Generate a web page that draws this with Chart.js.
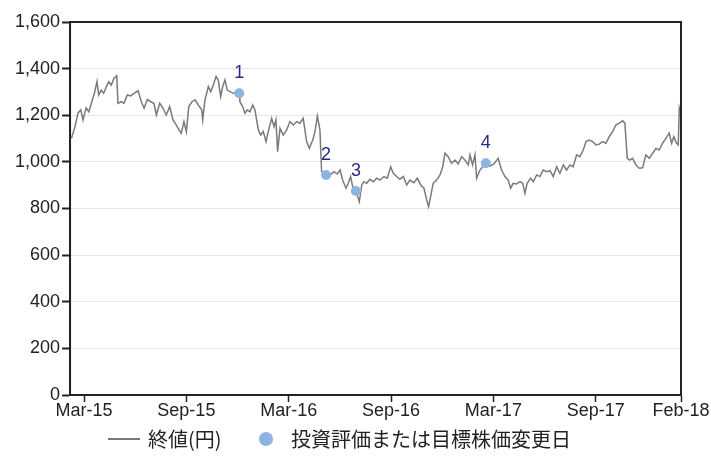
<!DOCTYPE html>
<html>
<head>
<meta charset="utf-8">
<script src="https://cdn.jsdelivr.net/npm/chart.js@4.4.1/dist/chart.umd.min.js"></script>
<style>
  html, body { margin: 0; padding: 0; background: #fff; }
  #wrap { position: relative; width: 711px; height: 466px; }
  #legend { position: absolute; left: 0; top: 426px; width: 711px; height: 26px;
            font: 20px "Noto Sans CJK JP", "Liberation Sans", sans-serif; color: #222; }
  #legend span { position: absolute; top: 0; line-height: 26px; white-space: nowrap; }
  #legend .sw-line { top: 12px; width: 32px; height: 2px; background: #7a7a7a; }
  #legend .sw-dot { top: 6px; width: 14px; height: 14px; border-radius: 50%; background: #8db3e2; }
</style>
</head>
<body>
<div id="wrap">
  <canvas id="priceChart" width="711" height="466"></canvas>
  <div id="legend"></div>
</div>
<script>
// x = months since Mar-2015, y = closing price (yen)
var months = [
  -0.74, -0.55, -0.35, -0.19, -0.06, 0.12, 0.28, 0.43, 0.63, 0.76,
  0.86, 1.01, 1.15, 1.31, 1.45, 1.60, 1.76, 1.92, 1.99, 2.19,
  2.34, 2.54, 2.74, 2.93, 3.17, 3.36, 3.52, 3.71, 3.91, 4.10,
  4.24, 4.44, 4.63, 4.82, 5.02, 5.22, 5.41, 5.57, 5.70, 5.86,
  6.00, 6.14, 6.33, 6.51, 6.70, 6.90, 6.96, 7.09, 7.29, 7.43,
  7.58, 7.74, 7.87, 8.01, 8.13, 8.26, 8.40, 8.56, 8.75, 9.10,
  9.14, 9.30, 9.44, 9.57, 9.73, 9.89, 10.02, 10.22, 10.36, 10.51,
  10.67, 10.80, 11.00, 11.14, 11.25, 11.35, 11.49, 11.68, 11.88, 12.07,
  12.27, 12.47, 12.66, 12.85, 13.05, 13.21, 13.41, 13.54, 13.68, 13.83,
  13.93, 14.19, 14.42, 14.65, 14.85, 15.01, 15.16, 15.36, 15.49, 15.63,
  15.75, 15.94, 16.14, 16.28, 16.41, 16.57, 16.76, 16.96, 17.16, 17.35,
  17.58, 17.78, 17.98, 18.13, 18.33, 18.52, 18.72, 18.92, 19.11, 19.34,
  19.54, 19.74, 19.93, 20.09, 20.20, 20.32, 20.47, 20.67, 20.87, 21.03,
  21.16, 21.35, 21.55, 21.75, 21.94, 22.14, 22.33, 22.53, 22.63, 22.78,
  22.92, 23.02, 23.21, 23.56, 23.80, 24.03, 24.28, 24.48, 24.68, 24.87,
  25.01, 25.16, 25.36, 25.56, 25.72, 25.85, 25.98, 26.18, 26.34, 26.54,
  26.73, 26.92, 27.12, 27.32, 27.51, 27.71, 27.90, 28.10, 28.29, 28.49,
  28.68, 28.88, 29.07, 29.27, 29.43, 29.62, 29.82, 30.01, 30.21, 30.40,
  30.60, 30.79, 30.99, 31.18, 31.38, 31.58, 31.71, 31.85, 32.00, 32.16,
  32.36, 32.55, 32.75, 32.94, 33.14, 33.34, 33.53, 33.72, 33.92, 34.11,
  34.31, 34.45, 34.58, 34.74, 34.84, 34.90, 34.95
];
var closes = [
  1101, 1145, 1210, 1223, 1180, 1231, 1215, 1251, 1301, 1344,
  1287, 1308, 1294, 1323, 1344, 1330, 1359, 1369, 1251, 1258,
  1251, 1287, 1283, 1294, 1305, 1258, 1230, 1268, 1258, 1251,
  1201, 1251, 1230, 1201, 1237, 1180, 1158, 1137, 1123, 1173,
  1130, 1237, 1258, 1266, 1244, 1223, 1180, 1266, 1323, 1301,
  1330, 1366, 1351, 1280, 1323, 1351, 1308, 1301, 1294, 1294,
  1258, 1237, 1208, 1223, 1215, 1244, 1223, 1137, 1115, 1130,
  1087, 1130, 1187, 1151, 1180, 1044, 1144, 1115, 1137, 1173,
  1158, 1173, 1166, 1187, 1087, 1058, 1094, 1130, 1197, 1137,
  958, 944, 944, 958, 948, 965, 922, 887, 908, 937,
  894, 875, 829, 901, 915, 908, 925, 915, 930, 922,
  937, 930, 979, 951, 937, 925, 937, 901, 922, 911,
  930, 901, 887, 837, 808, 851, 908, 922, 944, 979,
  1037, 1022, 994, 1008, 991, 1022, 1008, 987, 1030, 987,
  1030, 930, 965, 994, 982, 991, 1015, 965, 937, 922,
  887, 908, 905, 915, 908, 865, 908, 930, 915, 944,
  937, 965, 958, 962, 937, 979, 951, 987, 965, 987,
  979, 1030, 1022, 1051, 1087, 1094, 1087, 1073, 1076, 1087,
  1080, 1108, 1130, 1158, 1166, 1176, 1166, 1015, 1008, 1015,
  987, 973, 975, 1030, 1015, 1037, 1058, 1051, 1080, 1101,
  1123, 1080, 1108, 1080, 1073, 1230, 1215
];

// rating / target price change days
var eventMonths = [9.10, 14.19, 15.94, 23.56];
var eventPrices = [1294, 944, 875, 994];
var eventLabels = ['1', '2', '3', '4'];

var tickMonths = [0, 6, 12, 18, 24, 30, 35];
var tickLabels = ['Mar-15', 'Sep-15', 'Mar-16', 'Sep-16', 'Mar-17', 'Sep-17', 'Feb-18'];

var seriesNames = ['終値(円)', '投資評価または目標株価変更日'];

var FONT = '"Liberation Sans", "Noto Sans CJK JP", sans-serif';
var INK = '#222';

// legend below the plot
var legend = document.getElementById('legend');
legend.innerHTML =
    '<span class="sw-line" style="left:108px"></span>' +
    '<span style="left:148px">' + seriesNames[0] + '</span>' +
    '<span class="sw-dot" style="left:259px"></span>' +
    '<span style="left:291px">' + seriesNames[1] + '</span>';

var boxAndLabels = {
    id: 'boxAndLabels',
    afterDatasetsDraw: function(chart) {
        var ctx = chart.ctx, a = chart.chartArea;
        var xs = chart.scales.x, ys = chart.scales.y;
        ctx.save();
        ctx.strokeStyle = INK;
        ctx.lineWidth = 2;
        ctx.strokeRect(a.left, a.top, a.right - a.left, a.bottom - a.top);
        ctx.fillStyle = '#2a2a86';
        ctx.font = '18px ' + FONT;
        ctx.textAlign = 'center';
        ctx.textBaseline = 'middle';
        for (var i = 0; i < eventMonths.length; i++) {
            ctx.fillText(eventLabels[i], xs.getPixelForValue(eventMonths[i]), ys.getPixelForValue(eventPrices[i]) - 20);
        }
        ctx.restore();
    }
};

var ctx = document.getElementById('priceChart').getContext('2d');
new Chart(ctx, {
    type: 'line',
    data: {
        datasets: [{
            label: seriesNames[0],
            data: months.map(function(m, i) { return { x: m, y: closes[i] }; }),
            borderColor: '#7a7a7a',
            backgroundColor: '#7a7a7a',
            borderWidth: 1.5,
            pointRadius: 0,
            tension: 0,
            order: 1
        }, {
            type: 'scatter',
            label: seriesNames[1],
            data: eventMonths.map(function(m, i) { return { x: m, y: eventPrices[i] }; }),
            backgroundColor: '#8db3e2',
            borderWidth: 0,
            pointRadius: 5,
            order: 0
        }]
    },
    options: {
        responsive: false,
        animation: false,
        layout: { padding: { left: 13, right: 30, top: 22, bottom: 46 } },
        scales: {
            x: {
                type: 'linear',
                min: -0.82,
                max: 35,
                afterBuildTicks: function(scale) {
                    scale.ticks = tickMonths.map(function(v) { return { value: v }; });
                },
                ticks: {
                    autoSkip: false,
                    maxRotation: 0,
                    color: INK,
                    font: { family: FONT, size: 18, lineHeight: 1 },
                    padding: 0,
                    callback: function(v) { return tickLabels[tickMonths.indexOf(v)]; }
                },
                grid: { drawOnChartArea: false, tickColor: INK, tickLength: 7, tickWidth: 1.5 },
                border: { color: INK, width: 2 }
            },
            y: {
                min: 0,
                max: 1600,
                ticks: {
                    stepSize: 200,
                    color: INK,
                    font: { family: FONT, size: 18 },
                    padding: 2,
                    callback: function(v) { return v.toLocaleString('en-US'); }
                },
                grid: { color: '#e6e6e6', tickColor: INK, tickLength: 8, tickWidth: 2 },
                border: { color: INK, width: 2 }
            }
        },
        plugins: {
            tooltip: { enabled: false },
            legend: { display: false }
        }
    },
    plugins: [boxAndLabels]
});
</script>
</body>
</html>
